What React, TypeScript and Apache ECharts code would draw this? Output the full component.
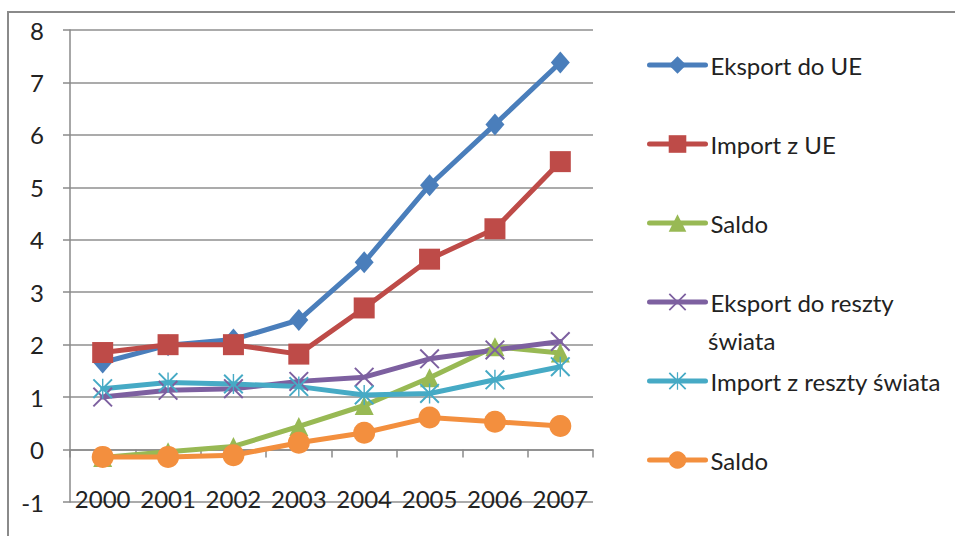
import React, { useEffect, useRef } from "react";
import * as echarts from "echarts";

const years = ["2000", "2001", "2002", "2003", "2004", "2005", "2006", "2007"];
const eksportUE = [1.66, 1.99, 2.1, 2.47, 3.57, 5.04, 6.2, 7.38];
const importUE = [1.85, 2.0, 2.0, 1.82, 2.7, 3.63, 4.21, 5.49];
const saldoUE = [-0.15, -0.04, 0.06, 0.44, 0.84, 1.37, 1.96, 1.84];
const eksportReszta = [1.0, 1.13, 1.16, 1.3, 1.38, 1.73, 1.9, 2.06];
const importReszta = [1.16, 1.28, 1.25, 1.2, 1.04, 1.07, 1.33, 1.58];
const saldoReszta = [-0.14, -0.14, -0.11, 0.13, 0.32, 0.61, 0.53, 0.45];

const seriesNames = [
  "Eksport do UE",
  "Import z UE",
  "Saldo",
  "Eksport do reszty świata",
  "Import z reszty świata",
  "Saldo (reszta świata)",
];
const legendLabels: Record<string, string> = {
  "Eksport do UE": "Eksport do UE",
  "Import z UE": "Import z UE",
  Saldo: "Saldo",
  "Eksport do reszty świata": "Eksport do reszty",
  "Import z reszty świata": "Import z reszty świata",
  "Saldo (reszta świata)": "Saldo",
};
const yMin = -1;
const yMax = 8;

const FONT = "Lato";
const X_PATH = "path://M0,7 L7,0 L100,93 L93,100 Z M93,0 L100,7 L7,100 L0,93 Z";
const STAR_PATH =
  "path://M0,7 L7,0 L100,93 L93,100 Z M93,0 L100,7 L7,100 L0,93 Z M46.5,0 L53.5,0 L53.5,100 L46.5,100 Z";

export default function App() {
  const ref = useRef<HTMLDivElement>(null);
  useEffect(() => {
    if (!ref.current) return;
    const chart = echarts.init(ref.current, null, { renderer: "svg" });
    const mk = (
      name: string,
      data: number[],
      color: string,
      symbol: string,
      size: number | number[]
    ) => ({
      name,
      type: "line",
      data,
      xAxisIndex: 0,
      symbol,
      symbolSize: size,
      showAllSymbol: true,
      lineStyle: { width: 5, color, cap: "round", join: "round" },
      itemStyle: { color },
      emphasis: { disabled: true },
    });
    chart.setOption({
      animation: false,
      textStyle: { fontFamily: FONT },
      grid: { left: 70, right: 362, top: 30, bottom: 34, containLabel: false },
      xAxis: [
        {
          type: "category",
          data: years,
          boundaryGap: true,
          position: "bottom",
          axisLine: { show: true, onZero: true, lineStyle: { color: "#8a8a8a", width: 1.5 } },
          axisTick: { show: true, length: 8, lineStyle: { color: "#8a8a8a", width: 1.5 } },
          axisLabel: { show: false },
          splitLine: { show: false },
        },
        {
          type: "category",
          data: years,
          boundaryGap: true,
          position: "bottom",
          axisLine: { show: false, onZero: false },
          axisTick: { show: false },
          axisLabel: {
            show: true,
            interval: 0,
            hideOverlap: false,
            fontSize: 24,
            color: "#222",
            fontFamily: FONT,
            margin: -16,
          },
          splitLine: { show: false },
        },
      ],
      yAxis: {
        type: "value",
        min: yMin,
        max: yMax,
        interval: 1,
        axisLine: { show: true, lineStyle: { color: "#8a8a8a", width: 1.5 } },
        axisTick: { show: true, length: 7, lineStyle: { color: "#8a8a8a", width: 1.5 } },
        axisLabel: { fontSize: 24, color: "#222", fontFamily: FONT, margin: 26 },
        splitLine: { show: true, lineStyle: { color: "#8f8f8f", width: 1.5 } },
      },
      legend: {
        orient: "vertical",
        left: 642,
        top: 48,
        itemWidth: 56,
        itemHeight: 22,
        itemGap: 55,
        data: seriesNames,
        formatter: (n: string) => legendLabels[n] ?? n,
        textStyle: { fontSize: 24, color: "#222", fontFamily: FONT, lineHeight: 24 },
        lineStyle: { width: 5 },
        selectedMode: false,
      },
      graphic: [
        {
          type: "rect",
          shape: { x: 8, y: 12, width: 980, height: 560 },
          style: { fill: "none", stroke: "#8a8a8a", lineWidth: 2 },
          silent: true,
        },
        {
          type: "text",
          x: 708,
          y: 340,
          style: {
            text: "świata",
            fontSize: 24,
            fontFamily: FONT,
            fill: "#222",
            verticalAlign: "middle",
            align: "left",
          },
        },
      ],
      series: [
        mk(seriesNames[0], eksportUE, "#4A7EBB", "diamond", [19, 22]),
        mk(seriesNames[1], importUE, "#BE4B48", "rect", 21),
        mk(seriesNames[2], saldoUE, "#98B954", "triangle", 19),
        mk(seriesNames[3], eksportReszta, "#7D60A0", X_PATH, 20),
        mk(seriesNames[4], importReszta, "#46AAC5", STAR_PATH, 20),
        mk(seriesNames[5], saldoReszta, "#F38F3E", "circle", 22),
      ],
    });
    return () => chart.dispose();
  }, []);
  return (
    <div
      ref={ref}
      style={{ position: "fixed", left: 0, top: 0, width: 955, height: 536, background: "#fff" }}
    />
  );
}
